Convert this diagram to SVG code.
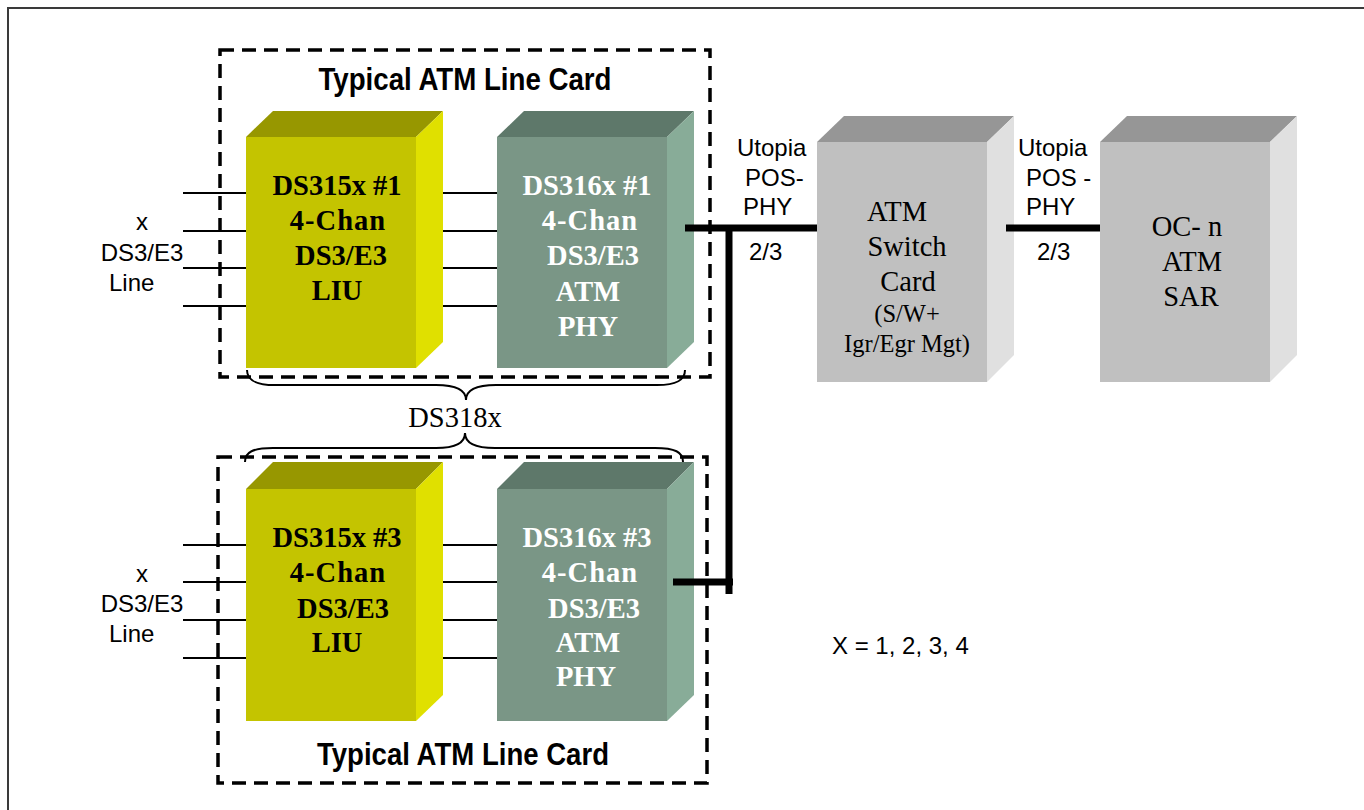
<svg xmlns="http://www.w3.org/2000/svg" width="1364" height="810" viewBox="0 0 1364 810">
<style>
.frame{fill:none;stroke:#3a3a3a;stroke-width:2}
.card{fill:none;stroke:#000;stroke-width:3.5;stroke-dasharray:14 8}
.yf{fill:#C4C400}.yt{fill:#979700}.ys{fill:#E0E000}
.gf{fill:#7A9686}.gt{fill:#5E786A}.gs{fill:#88AC98}
.af{fill:#C0C0C0}.at{fill:#969696}.as{fill:#E0E0E0}
.thin{stroke:#000;stroke-width:2;fill:none}
.bus{stroke:#000;stroke-width:7;fill:none}
.brace{stroke:#000;stroke-width:2;fill:none}
.title{font-family:"Liberation Sans",Arial,sans-serif;font-weight:bold;font-size:31px;fill:#000;text-anchor:middle}
.chipY{font-family:"Liberation Serif","Times New Roman",serif;font-weight:bold;font-size:28.5px;fill:#000;text-anchor:middle}
.chipG{font-family:"Liberation Serif","Times New Roman",serif;font-weight:bold;font-size:28.5px;fill:#fff;text-anchor:middle}
.serif{font-family:"Liberation Serif","Times New Roman",serif;font-size:28.5px;fill:#000;text-anchor:middle}
.serifS{font-family:"Liberation Serif","Times New Roman",serif;font-size:24.5px;fill:#000;text-anchor:middle}
.sans{font-family:"Liberation Sans",Arial,sans-serif;font-size:24px;fill:#000}
</style>

<rect class="frame" x="8" y="8" width="1370" height="820"/>

<g id="card-top">
  <rect class="card" x="220" y="50" width="490" height="327"/>
  <text class="title" x="465" y="90" textLength="293" lengthAdjust="spacingAndGlyphs">Typical ATM Line Card</text>
</g>
<g id="card-bottom">
  <rect class="card" x="218" y="457" width="489" height="326"/>
  <text class="title" x="463" y="765" textLength="292" lengthAdjust="spacingAndGlyphs">Typical ATM Line Card</text>
</g>

<g id="connectors">
  <path class="thin" d="M183,193H246M183,231H246M183,268H246M183,306H246"/>
  <path class="thin" d="M434,193H497M434,231H497M434,268H497M434,306H497"/>
  <path class="thin" d="M183,545H246M183,582H246M183,620H246M183,658H246"/>
  <path class="thin" d="M434,545H497M434,582H497M434,620H497M434,658H497"/>
</g>

<g id="liu1">
  <rect class="yf" x="246" y="137" width="170" height="231"/>
  <polygon class="yt" points="246,137 273,111 443,111 416,137"/>
  <polygon class="ys" points="416,137 443,111 443,342 416,368"/>
  <text class="chipY" x="337" y="195">DS315x #1</text>
  <text class="chipY" x="338" y="230" letter-spacing="1">4-Chan</text>
  <text class="chipY" x="341" y="265">DS3/E3</text>
  <text class="chipY" x="337" y="300">LIU</text>
</g>

<g id="phy1">
  <rect class="gf" x="497" y="137" width="170" height="231"/>
  <polygon class="gt" points="497,137 524,111 694,111 667,137"/>
  <polygon class="gs" points="667,137 694,111 694,342 667,368"/>
  <text class="chipG" x="587" y="195">DS316x #1</text>
  <text class="chipG" x="590" y="230" letter-spacing="1">4-Chan</text>
  <text class="chipG" x="593" y="265">DS3/E3</text>
  <text class="chipG" x="588" y="301">ATM</text>
  <text class="chipG" x="588" y="336">PHY</text>
</g>

<g id="liu3">
  <rect class="yf" x="246" y="489" width="170" height="232"/>
  <polygon class="yt" points="246,489 273,462 443,462 416,489"/>
  <polygon class="ys" points="416,489 443,462 443,695 416,721"/>
  <text class="chipY" x="337" y="547">DS315x #3</text>
  <text class="chipY" x="338" y="582" letter-spacing="1">4-Chan</text>
  <text class="chipY" x="343" y="618">DS3/E3</text>
  <text class="chipY" x="337" y="652">LIU</text>
</g>

<g id="phy3">
  <rect class="gf" x="497" y="489" width="170" height="232"/>
  <polygon class="gt" points="497,489 524,462 694,462 667,489"/>
  <polygon class="gs" points="667,489 694,462 694,695 667,721"/>
  <text class="chipG" x="587" y="547">DS316x #3</text>
  <text class="chipG" x="590" y="582" letter-spacing="1">4-Chan</text>
  <text class="chipG" x="594" y="618">DS3/E3</text>
  <text class="chipG" x="588" y="652">ATM</text>
  <text class="chipG" x="586" y="686">PHY</text>
</g>

<g id="switch">
  <rect class="af" x="817" y="142" width="170" height="240"/>
  <polygon class="at" points="817,142 844,116 1014,116 987,142"/>
  <polygon class="as" points="987,142 1014,116 1014,355 987,382"/>
  <text class="serif" x="897" y="221">ATM</text>
  <text class="serif" x="907" y="256">Switch</text>
  <text class="serif" x="908" y="291">Card</text>
  <text class="serifS" x="907" y="322">(S/W+</text>
  <text class="serifS" x="907" y="352">Igr/Egr Mgt)</text>
</g>

<g id="sar">
  <rect class="af" x="1100" y="142" width="170" height="240"/>
  <polygon class="at" points="1100,142 1127,116 1297,116 1270,142"/>
  <polygon class="as" points="1270,142 1297,116 1297,355 1270,382"/>
  <text class="serif" x="1187" y="236">OC- n</text>
  <text class="serif" x="1192" y="271">ATM</text>
  <text class="serif" x="1191" y="306">SAR</text>
</g>

<g id="buses">
  <path class="bus" d="M685,228H817"/>
  <path class="bus" d="M729,225V594"/>
  <path class="bus" d="M673,582H733"/>
  <path class="bus" d="M1006,228H1100"/>
</g>

<g id="braces">
  <path class="brace" d="M247,370C247,380 255,385 275,385L436,385C455,385 466,390 466,400C466,390 477,385 496,385L657,385C677,385 685,380 685,370"/>
  <path class="brace" d="M245,462C245,452 253,448 273,448L436,448C455,448 465,443 465,433C465,443 476,448 495,448L655,448C675,448 683,452 683,462"/>
  <text class="serif" x="455" y="427">DS318x</text>
</g>

<g id="labels">
  <text class="sans" x="142" y="230" text-anchor="middle">x</text>
  <text class="sans" x="142" y="261" text-anchor="middle">DS3/E3</text>
  <text class="sans" x="109" y="291">Line</text>
  <text class="sans" x="142" y="582" text-anchor="middle">x</text>
  <text class="sans" x="142" y="612" text-anchor="middle">DS3/E3</text>
  <text class="sans" x="109" y="642">Line</text>
  <text class="sans" x="737" y="156">Utopia</text>
  <text class="sans" x="745" y="186">POS-</text>
  <text class="sans" x="743" y="215">PHY</text>
  <text class="sans" x="749" y="260">2/3</text>
  <text class="sans" x="1018" y="156">Utopia</text>
  <text class="sans" x="1026" y="186">POS -</text>
  <text class="sans" x="1026" y="215">PHY</text>
  <text class="sans" x="1037" y="260">2/3</text>
  <text class="sans" x="832" y="654">X = 1, 2, 3, 4</text>
</g>
</svg>
